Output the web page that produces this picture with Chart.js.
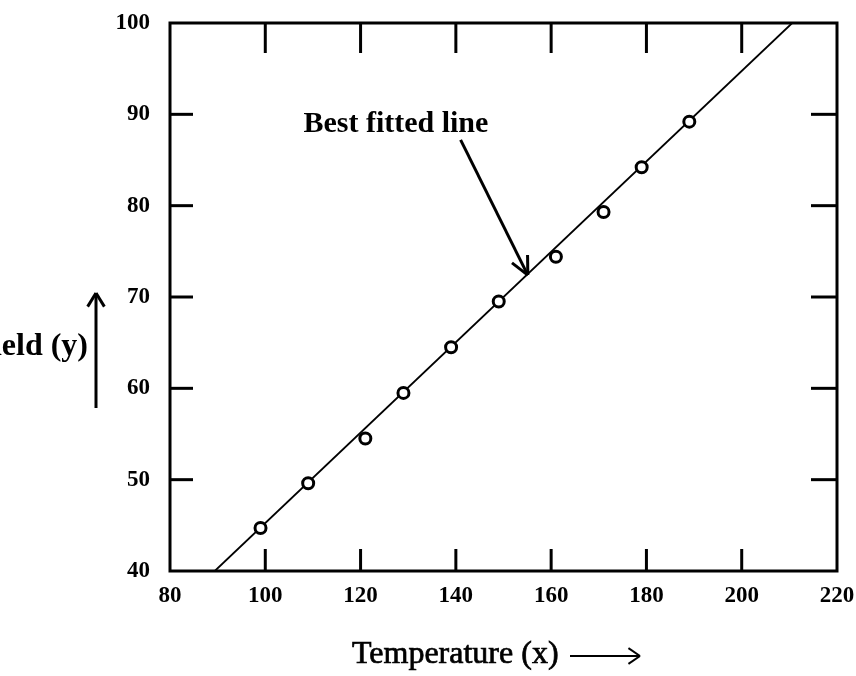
<!DOCTYPE html>
<html>
<head>
<meta charset="utf-8">
<script src="https://cdn.jsdelivr.net/npm/chart.js@4.4.0/dist/chart.umd.min.js"></script>
<style>
  html, body { margin: 0; padding: 0; background: #fff; }
</style>
</head>
<body>
<canvas id="canvas" width="856" height="676"></canvas>
<script>
// Observed points (temperature vs yield)
const temperature = [99, 109, 121, 129, 139, 149, 161, 171, 179, 189];
const yieldValues = [44.7, 49.6, 54.5, 59.5, 64.5, 69.5, 74.4, 79.3, 84.2, 89.2];

// Best fitted line end points
const fitX = [89.4, 210.6];
const fitY = [40, 100];

// Axis ranges / ticks
const xTicks = [80, 100, 120, 140, 160, 180, 200, 220];
const yTicks = [40, 50, 60, 70, 80, 90, 100];

const FONT = '"Liberation Serif", "Times New Roman", serif';

function seg(ctx, x1, y1, x2, y2) {
  ctx.beginPath();
  ctx.moveTo(x1, y1);
  ctx.lineTo(x2, y2);
  ctx.stroke();
}

function arrowHead(ctx, x1, y1, x2, y2, len, spread) {
  const ang = Math.atan2(y2 - y1, x2 - x1);
  seg(ctx, x2, y2, x2 - len * Math.cos(ang - spread), y2 - len * Math.sin(ang - spread));
  seg(ctx, x2, y2, x2 - len * Math.cos(ang + spread), y2 - len * Math.sin(ang + spread));
}

// frame with inward tick marks on all four sides
const framePlugin = {
  id: 'frame',
  afterDatasetsDraw(chart) {
    const { ctx, chartArea: a, scales: { x, y } } = chart;
    ctx.save();
    ctx.strokeStyle = '#000';
    ctx.lineWidth = 3;
    ctx.strokeRect(a.left, a.top, a.right - a.left, a.bottom - a.top);
    x.ticks.forEach(t => {
      if (t.value <= x.min || t.value >= x.max) return;
      const px = x.getPixelForValue(t.value);
      seg(ctx, px, a.bottom, px, a.bottom - 22);
      seg(ctx, px, a.top, px, a.top + 30);
    });
    y.ticks.forEach(t => {
      if (t.value <= y.min || t.value >= y.max) return;
      const py = y.getPixelForValue(t.value);
      seg(ctx, a.left, py, a.left + 23, py);
      seg(ctx, a.right, py, a.right - 26, py);
    });
    ctx.restore();
  },
  afterDraw(chart) {
    const { ctx, scales: { x, y } } = chart;
    ctx.save();
    ctx.fillStyle = '#000';
    ctx.strokeStyle = '#000';

    // "Best fitted line" annotation with arrow to the line
    ctx.font = 'bold 30px ' + FONT;
    ctx.textBaseline = 'alphabetic';
    ctx.textAlign = 'left';
    ctx.fillText('Best fitted line', x.getPixelForValue(108), y.getPixelForValue(88.1));
    ctx.lineWidth = 3;
    const ax1 = x.getPixelForValue(141), ay1 = y.getPixelForValue(87.2);
    const ax2 = x.getPixelForValue(155.1), ay2 = y.getPixelForValue(72.4);
    seg(ctx, ax1, ay1, ax2, ay2);
    arrowHead(ctx, ax1, ay1, ax2, ay2, 20, 0.45);

    // x axis title (slightly thickened like the scan)
    ctx.font = '32px ' + FONT;
    ctx.fillText('Temperature (x)', 352, 663);
    ctx.lineWidth = 0.7;
    ctx.strokeText('Temperature (x)', 352, 663);
    ctx.lineWidth = 2;
    seg(ctx, 570, 656, 640, 656);
    arrowHead(ctx, 570, 656, 640, 656, 14, 0.6);

    // y axis title (cut at the page edge, as in the scan)
    ctx.font = 'bold 32px ' + FONT;
    ctx.textAlign = 'right';
    ctx.textBaseline = 'middle';
    ctx.fillText('Yield (y)', 88, 347);
    ctx.lineWidth = 3;
    seg(ctx, 96, 408, 96, 293);
    arrowHead(ctx, 96, 408, 96, 293, 16, 0.55);
    ctx.restore();
  }
};

const canvas = document.getElementById('canvas');
new Chart(canvas.getContext('2d'), {
  type: 'scatter',
  data: {
    datasets: [
      {
        label: 'Observed',
        data: temperature.map((t, i) => ({ x: t, y: yieldValues[i] })),
        pointStyle: 'circle',
        pointRadius: 5.5,
        pointBorderWidth: 3,
        pointBorderColor: '#000',
        pointBackgroundColor: '#fff',
        showLine: false
      },
      {
        label: 'Best fitted line',
        type: 'line',
        data: fitX.map((v, i) => ({ x: v, y: fitY[i] })),
        borderColor: '#000',
        borderWidth: 1.8,
        pointRadius: 0,
        fill: false
      }
    ]
  },
  options: {
    responsive: false,
    animation: false,
    layout: { padding: { left: 0, top: 23, right: 19, bottom: 0 } },
    plugins: {
      legend: { display: false },
      tooltip: { enabled: false }
    },
    scales: {
      x: {
        type: 'linear',
        min: 80,
        max: 220,
        afterBuildTicks: s => { s.ticks = xTicks.map(v => ({ value: v })); },
        afterFit: s => { s.height = 105; },
        // grid hidden; tickLength only spaces the labels from the frame
        grid: { display: false, drawTicks: true, tickLength: 11 },
        border: { display: false },
        ticks: {
          color: '#000',
          padding: 0,
          maxRotation: 0,
          font: { family: FONT, size: 23, weight: 'bold' }
        }
      },
      y: {
        type: 'linear',
        min: 40,
        max: 100,
        afterBuildTicks: s => { s.ticks = yTicks.map(v => ({ value: v })); },
        afterFit: s => { s.width = 170; },
        grid: { display: false, drawTicks: true, tickLength: 20 },
        border: { display: false },
        ticks: {
          color: '#000',
          padding: 0,
          font: { family: FONT, size: 23, weight: 'bold' }
        }
      }
    }
  },
  plugins: [framePlugin]
});
</script>
</body>
</html>
